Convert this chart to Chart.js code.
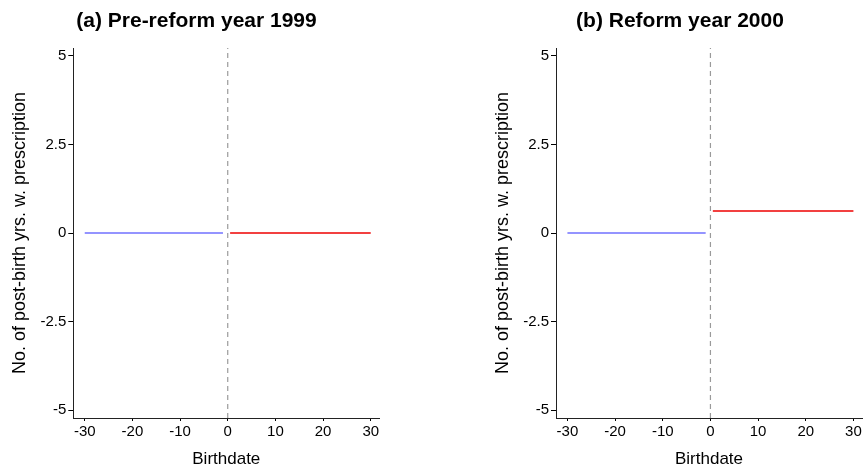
<!DOCTYPE html>
<html>
<head>
<meta charset="utf-8">
<script src="https://cdn.jsdelivr.net/npm/chart.js@4.4.0/dist/chart.umd.min.js"></script>
<style>
  html, body { margin: 0; padding: 0; background: #fff; }
  #wrap { display: flex; width: 864px; height: 470px; }
  canvas { display: block; }
</style>
</head>
<body>
<div id="wrap">
  <canvas id="chartA" width="432" height="470"></canvas>
  <canvas id="chartB" width="432" height="470"></canvas>
</div>
<script>
// Data
const panelTitles = ['(a) Pre-reform year 1999', '(b) Reform year 2000'];
const xTicks = [-30, -20, -10, 0, 10, 20, 30];
const yTicks = [-5, -2.5, 0, 2.5, 5];
const xRange = [-32.4, 31.8];
const yRange = [-5.22, 5.22];

const beforeX = [-30, -1];   // birthdates left of cutoff
const afterX = [0.5, 30];    // birthdates right of cutoff
const before1999 = [0, 0];
const after1999 = [0, 0];
const before2000 = [0, 0];
const after2000 = [0.62, 0.62];
const cutoffX = [0, 0];
const cutoffY = [-5.22, 5.22];

const FONT = "'Liberation Sans', Arial, Helvetica, sans-serif";

function pts(xs, ys) {
  return xs.map((x, i) => ({x: x, y: ys[i]}));
}

function makePanel(id, title, yBefore, yAfter, lay) {
  const ctx = document.getElementById(id).getContext('2d');
  return new Chart(ctx, {
    type: 'scatter',
    data: {
      datasets: [
        {
          data: pts(cutoffX, cutoffY),
          showLine: true, borderColor: '#9a9a9a', borderWidth: 1.2,
          borderDash: [5, 4], pointRadius: 0
        },
        {
          data: pts(beforeX, yBefore),
          showLine: true, borderColor: '#7070ff', borderWidth: 1.6, pointRadius: 0
        },
        {
          data: pts(afterX, yAfter),
          showLine: true, borderColor: '#ee0000', borderWidth: 1.6, pointRadius: 0
        }
      ]
    },
    options: {
      responsive: false,
      animation: false,
      events: [],
      layout: { padding: { left: lay.left, right: lay.right, top: 0, bottom: 0 } },
      plugins: {
        legend: { display: false },
        tooltip: { enabled: false },
        title: {
          display: true,
          text: title,
          color: '#000',
          font: { family: FONT, size: 21, weight: 'bold' },
          padding: { top: 9, bottom: 13.8 }
        }
      },
      scales: {
        x: {
          type: 'linear',
          min: xRange[0], max: xRange[1],
          afterBuildTicks: s => { s.ticks = xTicks.map(v => ({value: v})); },
          afterFit: s => { s.height = 52; },
          grid: { drawOnChartArea: false, drawTicks: true, tickLength: 3, color: '#000' },
          border: { display: true, color: '#222', width: 1 },
          ticks: {
            color: '#000', padding: 2,
            font: { family: FONT, size: 15 },
            maxRotation: 0,
            callback: v => String(v)
          },
          title: {
            display: true, text: 'Birthdate', color: '#000',
            font: { family: FONT, size: 17 },
            padding: { top: -3, bottom: 0 }
          }
        },
        y: {
          type: 'linear',
          min: yRange[0], max: yRange[1],
          afterBuildTicks: s => { s.ticks = yTicks.map(v => ({value: v})); },
          afterFit: s => { s.width = lay.yWidth; },
          grid: { drawOnChartArea: false, drawTicks: true, tickLength: 5, color: '#000' },
          border: { display: true, color: '#222', width: 1 },
          ticks: {
            color: '#000', padding: 2,
            font: { family: FONT, size: 15 },
            callback: v => String(v)
          },
          title: {
            display: true, text: 'No. of post-birth yrs. w. prescription', color: '#000',
            font: { family: FONT, size: 18 },
            padding: { top: lay.yTitlePad, bottom: 0 }
          }
        }
      }
    }
  });
}

makePanel('chartA', panelTitles[0], before1999, after1999,
  { left: 13.7, right: 52.7, yWidth: 59.6, yTitlePad: -4 });
makePanel('chartB', panelTitles[1], before2000, after2000,
  { left: 66, right: 2, yWidth: 58, yTitlePad: -6.1 });
</script>
</body>
</html>
